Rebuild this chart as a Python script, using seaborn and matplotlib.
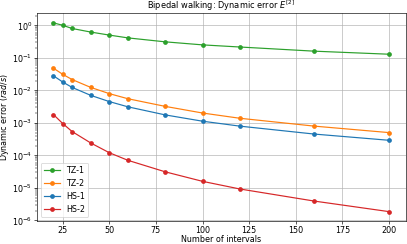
import numpy as np
import pandas as pd
import seaborn as sns
from matplotlib import pyplot as plt

# Number of intervals used for every method
intervals = [20, 25, 30, 40, 50, 60, 80, 100, 120, 160, 200]

# Dynamic error per method
tz1 = [1.19, 1.0, 0.80, 0.62, 0.50, 0.41, 0.31, 0.25, 0.215, 0.16, 0.129]
tz2 = [0.048, 0.031, 0.0215, 0.0123, 0.0079, 0.0055, 0.0032, 0.0020, 0.00138, 0.00079, 0.0005]
hs1 = [0.028, 0.018, 0.0123, 0.0070, 0.0045, 0.0031, 0.00175, 0.00112, 0.00079, 0.00045, 0.00029]
hs2 = [0.0018, 0.00095, 0.00054, 0.00024, 0.00012, 7.0e-5, 3.1e-5, 1.58e-5, 9.2e-6, 3.9e-6, 1.85e-6]

methods = ["TZ-1", "TZ-2", "HS-1", "HS-2"]
colors = ["#2ca02c", "#ff7f0e", "#1f77b4", "#d62728"]

df = pd.concat(
    [
        pd.DataFrame({"intervals": intervals, "error": vals, "method": name})
        for name, vals in zip(methods, [tz1, tz2, hs1, hs2])
    ]
)

# default matplotlib look, rendered at a low dpi to get 407x244
dpi = 57.3
plt.rcParams["font.size"] = 10
plt.rcParams["axes.titlesize"] = 10.4
plt.rcParams["xtick.major.pad"] = 2.2
plt.rcParams["ytick.major.pad"] = 2.3
fig, ax = plt.subplots(figsize=(407 / dpi, 244 / dpi), dpi=dpi)
sns.lineplot(
    data=df,
    x="intervals",
    y="error",
    hue="method",
    hue_order=methods,
    palette=colors,
    marker="o",
    markersize=6,
    markeredgewidth=0,
    linewidth=1.5,
    ax=ax,
)
ax.set_yscale("log")
ax.grid(True, color="#b0b0b0", linewidth=0.8)
ax.set_axisbelow(True)
ax.set_xlabel("Number of intervals", labelpad=0.5)
ax.set_ylabel("Dynamic error ($rad/s$)", labelpad=0.5)
ax.set_title("Bipedal walking: Dynamic error $E^{[2]}$", pad=2.5)
ax.legend(loc="lower left")
fig.subplots_adjust(left=0.09, right=0.997, bottom=0.094, top=0.945)
fig.savefig("out.png", dpi=dpi)
